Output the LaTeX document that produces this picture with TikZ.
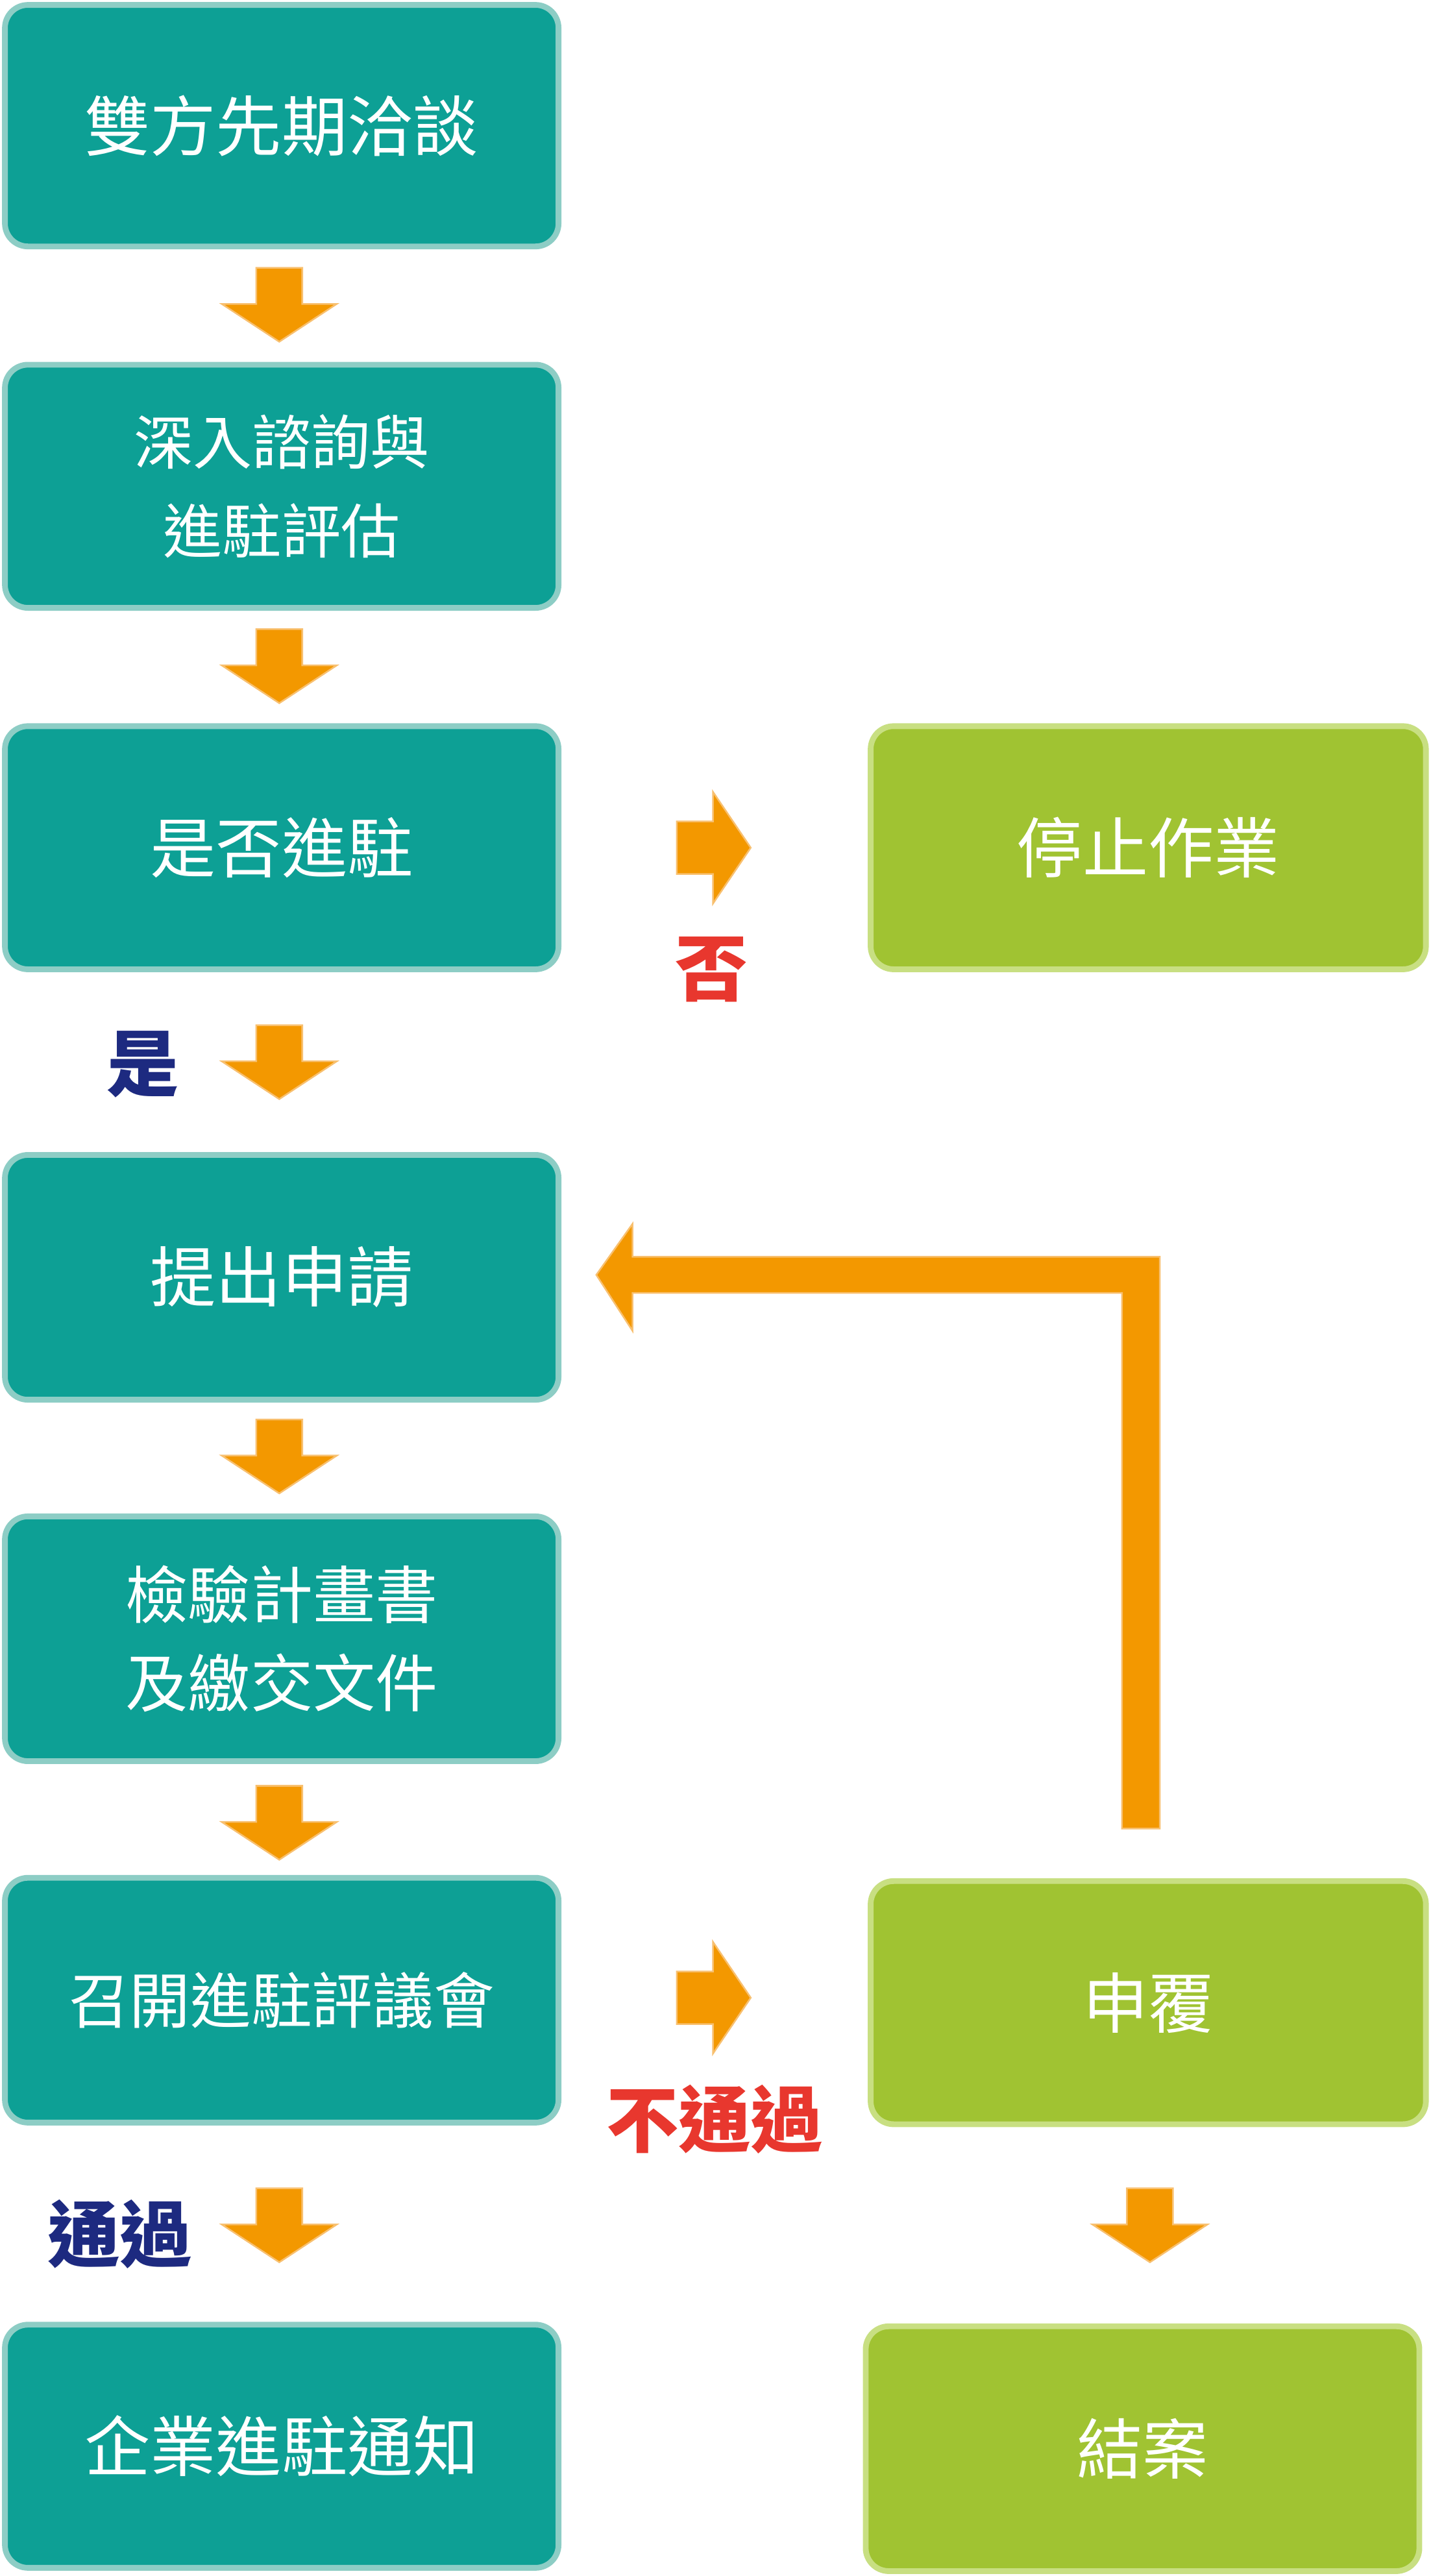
\documentclass[tikz,border=0pt]{standalone}
\usepackage{fontspec}
\setmainfont{Noto Sans CJK TC}
\definecolor{teal1}{HTML}{0DA095}
\definecolor{teal2}{HTML}{8DCDC5}
\definecolor{grn1}{HTML}{A0C332}
\definecolor{grn2}{HTML}{C8DF82}
\definecolor{org}{HTML}{F39800}
\definecolor{org2}{HTML}{F8C070}
\definecolor{navy}{HTML}{1D2A80}
\definecolor{red1}{HTML}{E8372E}
\begin{document}
\begin{tikzpicture}[x=1pt,y=-1pt,
 box/.style={draw=teal2,fill=teal1,line width=3.5pt,rounded corners=14pt,text=white,align=center,font=\fontsize{40}{52}\selectfont},
 gbox/.style={box,draw=grn2,fill=grn1},
 arr/.style={fill=org,draw=org2,line width=1pt}]
\useasboundingbox (0,0) rectangle (871,1568);
\newcommand\bx[6]{\node[#1,minimum width=#4-#3,minimum height=#6-#5] (#2) at ({(#3+#4)/2},{(#5+#6)/2}) {};}
\bx{box}{b1}{3}{340}{3}{150}
\bx{box}{b2}{3}{340}{222}{370}
\bx{box}{b3}{3}{340}{442}{590}
\bx{box}{b4}{3}{340}{703}{852}
\bx{box}{b5}{3}{340}{923}{1072}
\bx{box}{b6}{3}{340}{1143}{1292}
\bx{box}{b7}{3}{340}{1415}{1563}
\bx{gbox}{g1}{530}{868}{442}{590}
\bx{gbox}{g2}{530}{868}{1145}{1293}
\bx{gbox}{g3}{527}{864}{1416}{1565}
\tikzset{t/.style={text=white,align=center,font=\fontsize{40}{52}\selectfont}}
\node[t] at (b1) {雙方先期洽談};
\node[t,font=\fontsize{36}{54}\selectfont] at (b2) {深入諮詢與\\進駐評估};
\node[t] at (b3) {是否進駐};
\node[t] at (b4) {提出申請};
\node[t,font=\fontsize{38}{54}\selectfont] at (b5) {檢驗計畫書\\及繳交文件};
\node[t,font=\fontsize{37}{50}\selectfont] at (b6) {召開進駐評議會};
\node[t] at (b7) {企業進駐通知};
\node[t] at (g1) {停止作業};
\node[t] at (g2) {申覆};
\node[t] at (g3) {結案};
\newcommand\darr[2]{\draw[arr] (#1-14,#2) -- (#1+14,#2) -- (#1+14,#2+22) -- (#1+35,#2+22) -- (#1,#2+45) -- (#1-35,#2+22) -- (#1-14,#2+22) -- cycle;}
\newcommand\rarr[2]{\draw[arr] (#1,#2-16) -- (#1+22,#2-16) -- (#1+22,#2-34) -- (#1+45,#2) -- (#1+22,#2+34) -- (#1+22,#2+16) -- (#1,#2+16) -- cycle;}
\darr{170}{163}\darr{170}{383}\darr{170}{624}\darr{170}{864}\darr{170}{1087}\darr{170}{1332}
\darr{700}{1332}
\rarr{412}{516}\rarr{412}{1216}
\draw[arr] (683,1113) -- (683,787) -- (385,787) -- (385,810) -- (363,776) -- (385,745) -- (385,765) -- (706,765) -- (706,1113) -- cycle;
\node[text=red1,font=\fontsize{44}{50}\selectfont\bfseries] (no) at (433,590) {否};
\node[text=navy,font=\fontsize{44}{50}\selectfont\bfseries] (yes) at (87,648) {是};
\node[text=red1,font=\fontsize{44}{50}\selectfont\bfseries] (fail) at (435,1290) {不通過};
\node[text=navy,font=\fontsize{44}{50}\selectfont\bfseries] (pass) at (73,1360) {通過};
\end{tikzpicture}
\end{document}
